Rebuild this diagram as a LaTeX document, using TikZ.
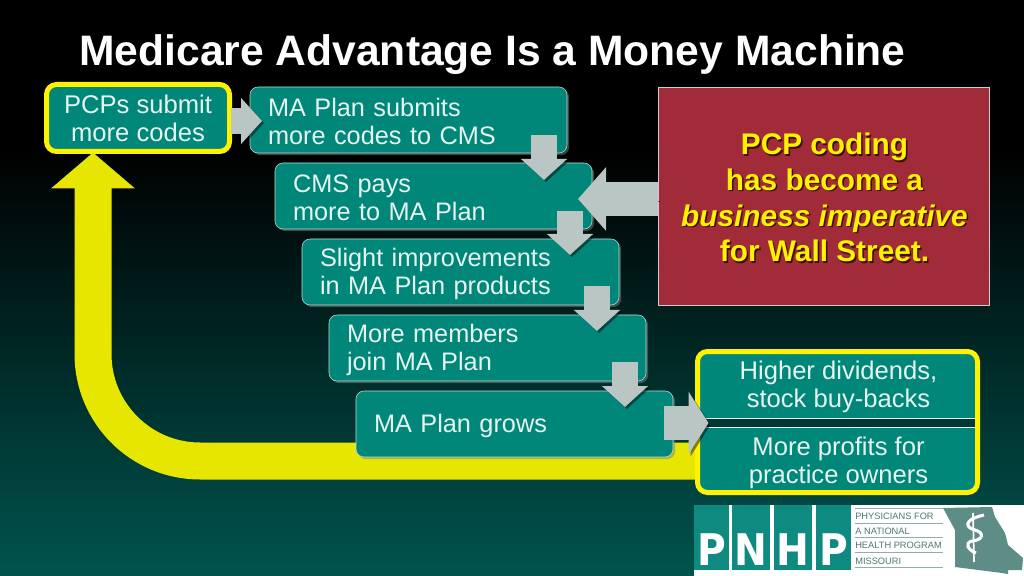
\documentclass[tikz,border=0pt]{standalone}
\usepackage{fontspec}
\setmainfont{Liberation Sans}
\newfontfamily\logofont{DejaVu Sans Condensed}
\usepackage{xcolor}
\usetikzlibrary{calc,shadows,arrows.meta}
\definecolor{tealbox}{HTML}{00877A}
\definecolor{boxtext}{HTML}{E6F4F0}
\definecolor{bgbottom}{HTML}{00544E}
\definecolor{bandcolor}{HTML}{023836}
\definecolor{arrowgray}{HTML}{B9C6C3}
\definecolor{redbox}{HTML}{A22B3A}
\definecolor{loopyellow}{HTML}{E6E600}
\definecolor{logoteal}{HTML}{0F8A80}
\definecolor{logogray}{HTML}{5E8C86}
\newcommand{\pxx}{0.025cm}
\newcommand{\walltext}{PCP coding\\has become a\\{\itshape business imperative}\\for Wall Street.}
\tikzset{
  planbox/.style={draw=boxtext!80!tealbox, line width=0.4pt, fill=tealbox, rounded corners=8*\pxx,
    minimum height=66*\pxx, text width=281*\pxx, inner xsep=18*\pxx, inner ysep=0pt, outer sep=0pt,
    align=left, text=boxtext, font=\fontsize{18}{19.9}\selectfont,
    execute at begin node={\rule{0pt}{15.8pt}},
    drop shadow={shadow xshift=1.5pt, shadow yshift=-1.5pt, opacity=.5}},
  yellowframe/.style={draw=yellow, line width=5*\pxx, fill=tealbox, rounded corners=10*\pxx, outer sep=0pt, inner sep=0pt,
    drop shadow={shadow xshift=1.5pt, shadow yshift=-1.5pt, opacity=.5}},
  framelabel/.style={align=center, text=boxtext, inner sep=0pt, font=\fontsize{18.2}{19.9}\selectfont},
  blockarrow/.style={draw=arrowgray, line width=26*\pxx,
    -{Triangle[length=21*\pxx, width=45*\pxx]},
    preaction={draw=black, opacity=.45, transform canvas={shift={(2,2)}}}},
  widearrow/.style={draw=arrowgray, line width=34*\pxx,
    -{Triangle[length=#1*\pxx, width=62*\pxx]},
    preaction={draw=black, opacity=.45, transform canvas={shift={(2,2)}}}},
  looparrow/.style={draw=loopyellow, line width=37*\pxx, rounded corners=107*\pxx,
    -{Triangle[length=36*\pxx, width=82*\pxx]},
    preaction={draw=black, opacity=.45, transform canvas={shift={(2,3)}}}},
  walltextstyle/.style={align=center, inner sep=0pt,
    font=\fontsize{21.2}{25.4}\selectfont\bfseries},
  logotile/.style={fill=logoteal, minimum height=65*\pxx, inner sep=0pt, outer sep=0pt},
  logoletter/.style={text=white, inner sep=0pt, font=\logofont\fontsize{31}{31}\selectfont\bfseries},
  logoline/.style={text=logogray!85!black, anchor=west, inner sep=0pt, font=\fontsize{6.6}{7}\selectfont},
}
\begin{document}
\begin{tikzpicture}[x=\pxx, y=-\pxx]
    \useasboundingbox (0,0) rectangle (1024,576);

    % Background
    \fill [black] (0,0) rectangle (1024,150);
    \shade [top color=black, bottom color=bgbottom] (0,150) rectangle (1024,576);

    % Title
    \node [text=white, inner sep=0pt, anchor=west, font=\fontsize{30.3}{33}\selectfont\bfseries] (title) at (79,55) {Medicare Advantage Is a Money Machine};

    % Frames and yellow loop
    \node [yellowframe, minimum width=183*\pxx, minimum height=67*\pxx] (pcps) at (138,118) {};
    \coordinate (loopstart) at (700,461);
    \coordinate (loopend) at ($(pcps.south)+(-45,1)$);
    \draw [looparrow] (loopstart) -| (loopend);
    \node [yellowframe, minimum width=280*\pxx, minimum height=141*\pxx] (payout) at (837.5,422) {};
    \node [framelabel] (pcplabel) at (pcps) {PCPs submit\\more codes};
    \fill [bandcolor] (698,418) rectangle (975,427);
    \draw [boxtext, line width=0.5pt] (698,418) -- (975,418);
    \draw [boxtext, line width=0.5pt] (698,427) -- (975,427);
    \node [framelabel] (dividends) at (838.5,387) {Higher dividends,\\stock buy-backs};
    \node [framelabel] (profits) at (838.5,463) {More profits for\\practice owners};

    % Plan steps
    \node [planbox] (masub) at (408.5,120) {MA Plan submits\\more codes to CMS};
    \node [planbox] (cmspays) at (433.5,196) {CMS pays\\more to MA Plan};
    \node [planbox] (slight) at (460.5,272) {Slight improvements\\in MA Plan products};
    \node [planbox] (members) at (487.5,348) {More members\\join MA Plan};
    \node [planbox] (grows) at (514.5,424) {MA Plan grows};

    % Red box
    \node [draw=boxtext!70!gray, line width=0.5pt, fill=redbox, minimum width=331*\pxx, minimum height=218*\pxx, inner sep=0pt] (wallst) at (823.5,196) {};
    \node [walltextstyle, text=black!65!redbox] (wallshade) at ($(wallst)+(2.5,3)$) {\walltext};
    \node [walltextstyle, text=yellow] (walllabel) at ($(wallst)+(1,1.5)$) {\walltext};

    % Gray arrows
    \draw [blockarrow] ($(pcps.east)+(1,3)$) -- ($(masub.west)+(12,1)$);
    \draw [blockarrow] ($(masub.south east)+(-23,-18)$) -- ($(cmspays.north east)+(-48,17)$);
    \draw [blockarrow] ($(cmspays.south east)+(-22,-18)$) -- ($(slight.north east)+(-49,16)$);
    \draw [blockarrow] ($(slight.south east)+(-22,-19)$) -- ($(members.north east)+(-49,16)$);
    \draw [blockarrow] ($(members.south east)+(-21,-19)$) -- ($(grows.north east)+(-48,16)$);
    \draw [widearrow=20] ($(grows.east)+(-9,-1)$) -- ($(payout.west)+(11,1)$);
    \draw [widearrow=28] ($(wallst.west)+(0,3)$) -- ($(cmspays.east)+(-14,3)$);

    % Logo
    \fill [white] (694,505) rectangle (1024,576);
    \node [logotile, minimum width=35*\pxx] (tilea) at (711.5,537.5) {};
    \node [logotile, minimum width=38*\pxx] (tileb) at (751,537.5) {};
    \node [logotile, minimum width=38*\pxx] (tilec) at (793,537.5) {};
    \node [logotile, minimum width=35*\pxx] (tiled) at (833.5,537.5) {};
    \node [logoletter] (lettera) at ($(tilea)+(0,12.5)$) {P};
    \node [logoletter] (letterb) at ($(tileb)+(0,12.5)$) {N};
    \node [logoletter] (letterc) at ($(tilec)+(0,12.5)$) {H};
    \node [logoletter] (letterd) at ($(tiled)+(0,12.5)$) {P};
    \node [logoline] (logoa) at (855,516) {PHYSICIANS FOR};
    \node [logoline] (logob) at (855,531) {A NATIONAL};
    \node [logoline] (logoc) at (855,545) {HEALTH PROGRAM};
    \node [logoline] (logod) at (855,561) {MISSOURI};
    \foreach \y in {508,523,537,552,567} {
        \draw [logogray!70, line width=0.5pt] (855,\y) -- (943,\y);
    }

    % Missouri
    \fill [logogray] (943,508) -- (992,507) -- (995,517) -- (1005,533) -- (1008,545) -- (1023,558) -- (1022,570) -- (1008,570) -- (1008,574) -- (1002,573) -- (955,567) -- (955,530) -- cycle;
    \draw [white, line width=1.2pt] (973,513) -- (974,562);
    \draw [white, line width=2.2pt] (984,515) .. controls (962,520) and (966,528) .. (975,530) .. controls (985,533) and (983,540) .. (972,541) .. controls (964,543) and (968,550) .. (976,553);
\end{tikzpicture}
\end{document}
